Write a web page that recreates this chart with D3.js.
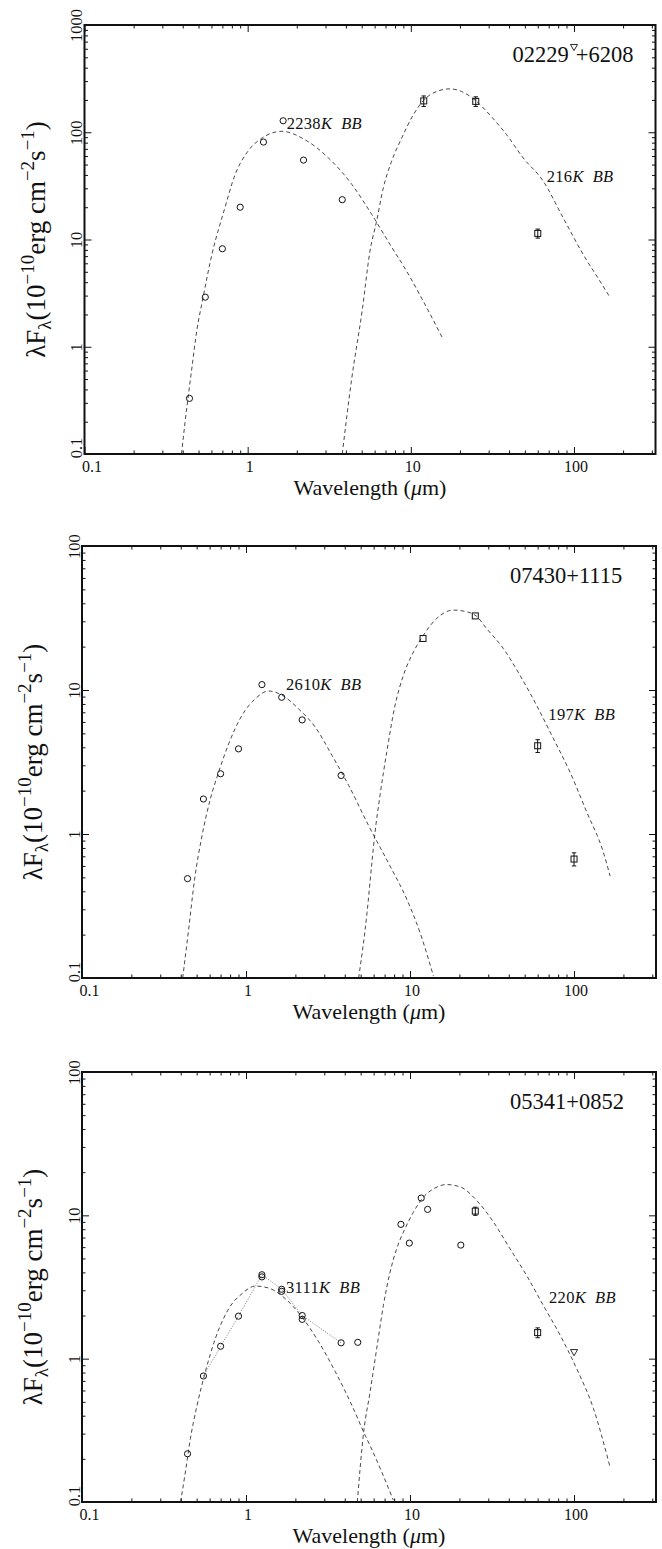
<!DOCTYPE html>
<html>
<head>
<meta charset="utf-8">
<title>SED fits</title>
<style>
  body { margin: 0; background: #fff; }
  svg text { font-family: "Liberation Serif", "DejaVu Serif", serif; fill: #111; }
</style>
</head>
<body>
<script src="https://d3js.org/d3.v7.min.js"></script>
<script>
// wavelength in micron, flux = lambda*F_lambda in 1e-10 erg cm^-2 s^-1
var xTicks = [0.1, 1, 10, 100];
var xTickLabels = ["0.1", "1", "10", "100"];
var xMax = 316;

// ---- 02229+6208
var p1Name = "02229+6208";
var p1YTicks = [0.1, 1, 10, 100, 1000];
var p1YTickLabels = ["0.1", "1", "10", "100", "1000"];
var p1OptWave = [0.44, 0.55, 0.70, 0.90, 1.25, 1.65, 2.2, 3.8];
var p1OptFlux = [0.33, 2.9, 8.2, 20, 81, 128, 55, 23.5];
var p1IrasWave = [12, 25, 60];
var p1IrasFlux = [196, 194, 11.4];
var p1IrasErr = [22, 20, 1.1];
var p1LimWave = [100];
var p1LimFlux = [630];
var p1HotWave = [0.393, 0.412, 0.453, 0.489, 0.526, 0.607, 0.72, 0.836, 1.0, 1.22, 1.62, 2.25, 3.13, 4.36, 5.78, 7.45, 9.42, 11.9, 15.8];
var p1HotFlux = [0.1, 0.19, 0.6, 1.45, 2.6, 7.5, 19, 40, 66, 88, 102, 85, 57.5, 32.5, 17, 9.0, 5.07, 2.67, 1.17];
var p1ColdWave = [3.80, 4.34, 5.04, 5.62, 6.17, 6.78, 7.62, 8.78, 10.35, 12.03, 14.38, 17.37, 20.47, 25.06, 30.5, 38.6, 48.9, 64.8, 85.9, 113.9, 144.1, 164.4];
var p1ColdFlux = [0.1, 0.5, 2.2, 7.8, 14.8, 30.2, 53.5, 88, 145, 200, 240, 254, 240, 196, 145, 95, 57.5, 35, 15.9, 7.25, 4.1, 2.97];
var p1HotTemp = "2238", p1ColdTemp = "216";
var p1HotLabelAt = [1.735, 107], p1ColdLabelAt = [68.1, 34.4];

// ---- 07430+1115
var p2Name = "07430+1115";
var p2YTicks = [0.1, 1, 10, 100];
var p2YTickLabels = ["0.1", "1", "10", "100"];
var p2OptWave = [0.44, 0.55, 0.70, 0.90, 1.25, 1.65, 2.2, 3.8];
var p2OptFlux = [0.49, 1.75, 2.62, 3.9, 10.9, 8.9, 6.2, 2.55];
var p2IrasWave = [12, 25, 60, 100];
var p2IrasFlux = [22.8, 32.7, 4.1, 0.67];
var p2IrasErr = [0, 0, 0.42, 0.07];
var p2LimWave = [];
var p2LimFlux = [];
var p2HotWave = [0.411, 0.447, 0.486, 0.539, 0.606, 0.681, 0.784, 0.945, 1.14, 1.37, 1.66, 2.09, 2.65, 3.35, 4.23, 5.6, 7.55, 9.55, 11.5, 13.9];
var p2HotFlux = [0.1, 0.218, 0.486, 0.97, 1.75, 2.69, 4.23, 6.67, 8.7, 9.84, 9.2, 7.4, 5.5, 3.5, 2.17, 1.14, 0.60, 0.353, 0.207, 0.103];
var p2ColdWave = [4.86, 5.47, 5.86, 6.12, 6.56, 7.21, 8.1, 9.1, 10.5, 12.06, 14.54, 18.4, 22.2, 25.3, 29.3, 37.1, 46.9, 59.2, 74.8, 94.5, 119.5, 151, 166];
var p2ColdFlux = [0.1, 0.285, 0.64, 1.03, 1.85, 3.7, 7.8, 12.6, 18.4, 24, 31.4, 35.9, 34.9, 32.7, 26.7, 19.4, 12.6, 7.8, 4.6, 2.69, 1.42, 0.745, 0.51];
var p2HotTemp = "2610", p2ColdTemp = "197";
var p2HotLabelAt = [1.754, 10.0], p2ColdLabelAt = [69.7, 6.19];

// ---- 05341+0852
var p3Name = "05341+0852";
var p3YTicks = [0.1, 1, 10, 100];
var p3YTickLabels = ["0.1", "1", "10", "100"];
var p3OptWave = [0.44, 0.55, 0.70, 0.90, 1.25, 1.65, 2.2, 3.8, 4.8, 8.8, 9.9, 11.7, 12.8, 20.4];
var p3OptFlux = [0.217, 0.757, 1.22, 1.98, 3.85, 3.05, 2.0, 1.29, 1.30, 8.65, 6.4, 13.2, 11.0, 6.2];
var p3Opt2Wave = [1.25, 1.65, 2.2];
var p3Opt2Flux = [3.72, 2.95, 1.88];
var p3LinkWave = [0.55, 0.70, 0.90, 1.25, 1.65, 2.2, 3.8];
var p3LinkFlux = [0.757, 1.22, 1.98, 3.85, 3.05, 2.0, 1.29];
var p3IrasWave = [25, 60];
var p3IrasFlux = [10.7, 1.52];
var p3IrasErr = [0.7, 0.12];
var p3LimWave = [100];
var p3LimFlux = [1.12];
var p3HotWave = [0.399, 0.427, 0.458, 0.5025, 0.565, 0.650, 0.784, 0.945, 1.14, 1.374, 1.737, 2.195, 2.774, 3.505, 4.43, 5.34, 5.70, 6.72, 7.91];
var p3HotFlux = [0.1, 0.162, 0.277, 0.47, 0.81, 1.38, 2.23, 2.84, 3.21, 3.11, 2.62, 1.95, 1.31, 0.81, 0.47, 0.29, 0.248, 0.162, 0.103];
var p3ColdWave = [4.77, 5.22, 5.70, 6.26, 6.88, 7.55, 8.29, 9.32, 10.48, 12.06, 14.2, 16.7, 20.2, 25.5, 32.2, 40.7, 51.4, 65.0, 82.2, 103.8, 131.2, 165.8];
var p3ColdFlux = [0.1, 0.31, 0.58, 1.17, 2.35, 4.0, 5.85, 8.07, 10.5, 13.4, 15.5, 16.4, 15.8, 12.7, 9.0, 5.85, 3.8, 2.35, 1.46, 0.85, 0.45, 0.175];
var p3HotTemp = "3111", p3ColdTemp = "220";
var p3HotLabelAt = [1.754, 2.88], p3ColdLabelAt = [70.4, 2.45];

function zip(a, b) { return a.map(function (v, i) { return [v, b[i]]; }); }

var panels = [
  { name: p1Name, nameGap: 7, left: 84.5, top: 25, width: 571, height: 429, yDomain: [0.1, 1000],
    yTicks: p1YTicks, yTickLabels: p1YTickLabels,
    opt: zip(p1OptWave, p1OptFlux), opt2: [], link: [],
    iras: p1IrasWave.map(function (w, i) { return [w, p1IrasFlux[i], p1IrasErr[i]]; }),
    lim: zip(p1LimWave, p1LimFlux),
    hot: zip(p1HotWave, p1HotFlux), cold: zip(p1ColdWave, p1ColdFlux),
    labels: [[p1HotTemp, p1HotLabelAt], [p1ColdTemp, p1ColdLabelAt]] },
  { name: p2Name, nameGap: 0, left: 82, top: 546, width: 574, height: 432, yDomain: [0.1, 100],
    yTicks: p2YTicks, yTickLabels: p2YTickLabels,
    opt: zip(p2OptWave, p2OptFlux), opt2: [], link: [],
    iras: p2IrasWave.map(function (w, i) { return [w, p2IrasFlux[i], p2IrasErr[i]]; }),
    lim: zip(p2LimWave, p2LimFlux),
    hot: zip(p2HotWave, p2HotFlux), cold: zip(p2ColdWave, p2ColdFlux),
    labels: [[p2HotTemp, p2HotLabelAt], [p2ColdTemp, p2ColdLabelAt]] },
  { name: p3Name, nameGap: 0, left: 82, top: 1072, width: 574, height: 430, yDomain: [0.1, 100],
    yTicks: p3YTicks, yTickLabels: p3YTickLabels,
    opt: zip(p3OptWave, p3OptFlux), opt2: zip(p3Opt2Wave, p3Opt2Flux), link: zip(p3LinkWave, p3LinkFlux),
    iras: p3IrasWave.map(function (w, i) { return [w, p3IrasFlux[i], p3IrasErr[i]]; }),
    lim: zip(p3LimWave, p3LimFlux),
    hot: zip(p3HotWave, p3HotFlux), cold: zip(p3ColdWave, p3ColdFlux),
    labels: [[p3HotTemp, p3HotLabelAt], [p3ColdTemp, p3ColdLabelAt]] }
];

var svg = d3.select("body").append("svg")
    .attr("width", 662).attr("height", 1549)
    .style("background", "#fff");

var ink = "#111";

panels.forEach(function (p, pi) {
  var g = svg.append("g").attr("transform", "translate(" + p.left + "," + p.top + ")");
  var x = d3.scaleLog().domain([0.1, xMax]).range([0, p.width]);
  var y = d3.scaleLog().domain(p.yDomain).range([p.height, 0]);

  var isPow10 = function (v) { return Math.abs(Math.log10(v) - Math.round(Math.log10(v))) < 1e-9; };
  var xMinor = x.ticks().filter(function (v) { return !isPow10(v); });
  var yMinor = y.ticks().filter(function (v) { return !isPow10(v); });

  g.append("defs").append("clipPath").attr("id", "clip" + pi)
    .append("rect").attr("width", p.width).attr("height", p.height);
  var plot = g.append("g").attr("clip-path", "url(#clip" + pi + ")");

  // blackbody curves
  var line = d3.line()
      .x(function (d) { return x(d[0]); })
      .y(function (d) { return y(d[1]); })
      .curve(d3.curveMonotoneX);
  [p.hot, p.cold].forEach(function (c) {
    plot.append("path").attr("d", line(c))
      .attr("fill", "none").attr("stroke", "#333")
      .attr("stroke-width", 0.9).attr("stroke-dasharray", "4,3");
  });
  if (p.link.length) {
    plot.append("path").attr("d", d3.line()
        .x(function (d) { return x(d[0]); })
        .y(function (d) { return y(d[1]); })(p.link))
      .attr("fill", "none").attr("stroke", "#666")
      .attr("stroke-width", 0.9).attr("stroke-dasharray", "1,1.6");
  }

  // photometry circles
  plot.selectAll("circle.opt").data(p.opt.concat(p.opt2)).enter().append("circle")
    .attr("class", "opt")
    .attr("cx", function (d) { return x(d[0]); })
    .attr("cy", function (d) { return y(d[1]); })
    .attr("r", 3.1).attr("fill", "none").attr("stroke", ink).attr("stroke-width", 1);

  // IRAS squares with error bars
  var sq = plot.selectAll("g.iras").data(p.iras).enter().append("g").attr("class", "iras")
    .attr("transform", function (d) { return "translate(" + x(d[0]) + "," + y(d[1]) + ")"; });
  sq.filter(function (d) { return d[2] > 0; }).each(function (d) {
    var s = d3.select(this);
    var y0 = y(d[1] - d[2]) - y(d[1]), y1 = y(d[1] + d[2]) - y(d[1]);
    s.append("line").attr("x1", 0).attr("x2", 0).attr("y1", y0).attr("y2", y1)
      .attr("stroke", ink).attr("stroke-width", 1);
    [y0, y1].forEach(function (yy) {
      s.append("line").attr("x1", -2.2).attr("x2", 2.2).attr("y1", yy).attr("y2", yy)
        .attr("stroke", ink).attr("stroke-width", 1);
    });
  });
  sq.append("rect").attr("x", -3).attr("y", -3).attr("width", 6).attr("height", 6)
    .attr("fill", "none").attr("stroke", ink).attr("stroke-width", 1);

  // upper limits
  plot.selectAll("path.lim").data(p.lim).enter().append("path").attr("class", "lim")
    .attr("d", d3.symbol().type(d3.symbolTriangle).size(22))
    .attr("transform", function (d) { return "translate(" + x(d[0]) + "," + y(d[1]) + ") rotate(180)"; })
    .attr("fill", "none").attr("stroke", ink).attr("stroke-width", 0.9);

  // blackbody labels
  p.labels.forEach(function (l) {
    var t = g.append("text")
      .attr("x", x(l[1][0])).attr("y", y(l[1][1]))
      .attr("font-size", 16.5).attr("letter-spacing", 0.3);
    t.append("tspan").text(l[0]);
    t.append("tspan").attr("font-style", "italic").text("K");
    t.append("tspan").attr("font-style", "italic").attr("dx", 9).text("BB");
  });

  // source name
  var nm = p.name.split("+");
  var nt = g.append("text").attr("x", 428).attr("y", 37).attr("font-size", 22.5);
  nt.append("tspan").text(nm[0]);
  nt.append("tspan").attr("dx", p.nameGap).text("+" + nm[1]);

  // ticks: minor then major on all four sides
  function side(axis, tr, vals, size) {
    var a = g.append("g").attr("transform", tr)
      .call(axis.tickValues(vals).tickSize(-size).tickFormat(""));
    a.select(".domain").remove();
    a.selectAll("line").attr("stroke", ink).attr("stroke-width", 1);
    return a;
  }
  side(d3.axisBottom(x), "translate(0," + p.height + ")", xMinor, 3.5);
  side(d3.axisTop(x), "translate(0,0)", xMinor, 3.5);
  side(d3.axisLeft(y), "translate(0,0)", yMinor, 3.5);
  side(d3.axisRight(y), "translate(" + p.width + ",0)", yMinor, 3.5);
  var xb = side(d3.axisBottom(x), "translate(0," + p.height + ")", xTicks, 7);
  side(d3.axisTop(x), "translate(0,0)", xTicks, 7);
  var yl = side(d3.axisLeft(y), "translate(0,0)", p.yTicks, 7);
  side(d3.axisRight(y), "translate(" + p.width + ",0)", p.yTicks, 7);

  xb.selectAll(".tick").append("text")
    .attr("x", function (d) { return d === 0.1 ? 7 : 1.5; })
    .attr("y", 17.5).attr("text-anchor", "middle").attr("font-size", 16)
    .text(function (d, i) { return xTickLabels[i]; });
  yl.selectAll(".tick").append("text")
    .attr("transform", "rotate(-90)")
    .attr("x", function (d) { return d === 0.1 ? 6.5 : 0; })
    .attr("y", -2.5).attr("text-anchor", "middle").attr("font-size", 16.5)
    .text(function (d, i) { return p.yTickLabels[i]; });

  // frame
  g.append("rect").attr("width", p.width).attr("height", p.height)
    .attr("fill", "none").attr("stroke", ink).attr("stroke-width", 2);

  // axis titles
  var xt = g.append("text").attr("x", p.width / 2).attr("y", p.height + 41)
    .attr("text-anchor", "middle").attr("font-size", 22);
  xt.append("tspan").text("Wavelength (");
  xt.append("tspan").attr("font-style", "italic").text("\u03bc");
  xt.append("tspan").text("m)");

  var yt = g.append("text")
    .attr("transform", "translate(" + (-40) + "," + (p.height / 2) + ") rotate(-90)")
    .attr("text-anchor", "middle").attr("font-size", 27);
  yt.append("tspan").text("\u03bbF");
  yt.append("tspan").attr("font-size", 19).attr("dy", 6).text("\u03bb");
  yt.append("tspan").attr("dy", -6).text("(10");
  yt.append("tspan").attr("font-size", 19).attr("dy", -11).text("\u221210");
  yt.append("tspan").attr("dy", 11).text("erg cm");
  yt.append("tspan").attr("font-size", 19).attr("dy", -11).text("\u22122");
  yt.append("tspan").attr("dy", 11).text("s");
  yt.append("tspan").attr("font-size", 19).attr("dy", -11).text("\u22121");
  yt.append("tspan").attr("dy", 11).text(")");
});
</script>
</body>
</html>
